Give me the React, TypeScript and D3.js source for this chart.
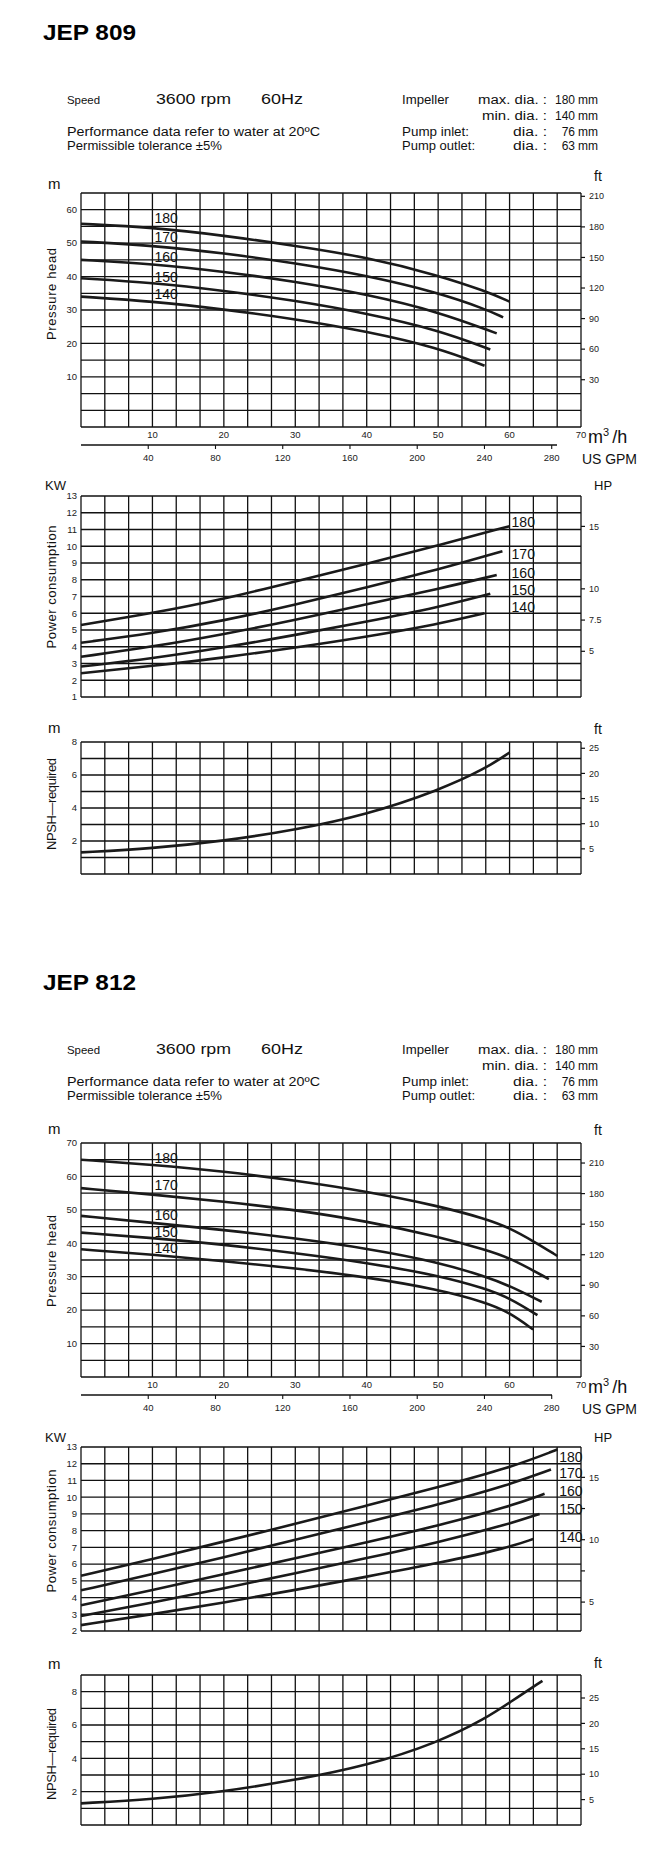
import React from 'react';
import * as d3 from 'd3';

// ---------- data ----------
const DIAMETERS = [180, 170, 160, 150, 140];
const FLOW_TICKS = [10, 20, 30, 40, 50, 60, 70];
const GPM_TICKS = [40, 80, 120, 160, 200, 240, 280];

// JEP 809 : head [m3/h, m]
const JEP809_HEAD: number[][][] = [
  [[0, 55.8], [10, 54.7], [20, 52.3], [30, 49.2], [40, 45.8], [50, 40.4], [56.7, 35.6], [60, 32.5]],
  [[0, 50.5], [10, 49.3], [20, 47], [30, 44], [40, 40.3], [50, 35.2], [56.7, 30.2], [59.1, 27.8]],
  [[0, 45], [10, 43.8], [20, 41.5], [30, 38.5], [40, 34.7], [50, 29.5], [58.2, 23]],
  [[0, 39.5], [10, 38.2], [20, 35.8], [30, 32.8], [40, 29], [50, 24], [57.3, 18.2]],
  [[0, 34], [10, 32.6], [20, 30.2], [30, 27.3], [40, 23.6], [50, 18.7], [56.5, 13.3]],
];
// JEP 809 : power [m3/h, kW]
const JEP809_POWER: number[][][] = [
  [[0, 5.3], [10, 6.0], [20, 6.85], [30, 7.9], [40, 8.95], [50, 10.05], [60, 11.2]],
  [[0, 4.24], [10, 4.8], [20, 5.56], [30, 6.5], [40, 7.55], [50, 8.6], [59, 9.7]],
  [[0, 3.4], [10, 4.0], [20, 4.75], [30, 5.6], [40, 6.55], [50, 7.45], [58.2, 8.28]],
  [[0, 2.82], [10, 3.3], [20, 3.95], [30, 4.7], [40, 5.5], [50, 6.35], [57.3, 7.16]],
  [[0, 2.42], [10, 2.85], [20, 3.35], [30, 3.95], [40, 4.6], [50, 5.35], [56.5, 6.0]],
];
// JEP 809 : NPSH [m3/h, m]
const JEP809_NPSH: number[][] = [[0, 1.31], [10, 1.55], [20, 2.0], [30, 2.67], [40, 3.6], [50, 5.05], [56.7, 6.4], [60, 7.36]];

// JEP 812 : head
const JEP812_HEAD: number[][][] = [
  [[0, 65], [10, 63.5], [20, 61.5], [30, 58.8], [40, 55.5], [50, 51.2], [56.7, 47.3], [60, 44.6], [63.3, 40.7], [66.7, 36.2]],
  [[0, 56.5], [10, 54.6], [20, 52.5], [30, 50], [40, 46.6], [50, 42], [56.7, 38], [60, 35.7], [65.5, 29.3]],
  [[0, 48.2], [10, 46.1], [20, 44], [30, 41.5], [40, 38.5], [50, 34.4], [56.7, 30], [60, 27.3], [64.5, 22.5]],
  [[0, 43.2], [10, 41.6], [20, 39.6], [30, 37.1], [40, 34.2], [50, 30.4], [56.7, 26.4], [60, 23.6], [63.9, 18.5]],
  [[0, 38.2], [10, 36.6], [20, 34.7], [30, 32.5], [40, 29.9], [50, 26.2], [56.7, 22.3], [60, 19.3], [63.3, 14.2]],
];
// JEP 812 : power
const JEP812_POWER: number[][][] = [
  [[0, 5.3], [10, 6.3], [20, 7.35], [30, 8.4], [40, 9.5], [50, 10.6], [60, 11.75], [66.7, 12.85]],
  [[0, 4.43], [10, 5.4], [20, 6.4], [30, 7.45], [40, 8.5], [50, 9.55], [60, 10.75], [65.8, 11.65]],
  [[0, 3.54], [10, 4.45], [20, 5.4], [30, 6.35], [40, 7.3], [50, 8.3], [60, 9.45], [64.9, 10.2]],
  [[0, 2.9], [10, 3.7], [20, 4.55], [30, 5.45], [40, 6.35], [50, 7.3], [60, 8.4], [64.2, 9.0]],
  [[0, 2.35], [10, 3.0], [20, 3.7], [30, 4.45], [40, 5.25], [50, 6.05], [60, 7.0], [63.3, 7.5]],
];
// JEP 812 : NPSH
const JEP812_NPSH: number[][] = [[0, 1.3], [10, 1.54], [20, 2.0], [30, 2.7], [40, 3.55], [50, 4.95], [56.7, 6.4], [60, 7.35], [64.6, 8.65]];

// curve label values (data units)
const JEP809_HEAD_LABELS = [57.5, 51.8, 45.8, 40, 34.8];
const JEP809_POWER_LABELS = [11.46, 9.56, 8.4, 7.4, 6.4];
const JEP812_HEAD_LABELS = [65.5, 57.5, 48.5, 43.3, 38.5];
const JEP812_POWER_LABELS = [12.4, 11.45, 10.4, 9.3, 7.6];

const FT_HEAD_TICKS = [30, 60, 90, 120, 150, 180, 210];
const FT_NPSH_TICKS = [5, 10, 15, 20, 25];
const HP_TICKS_809 = [5, 7.5, 10, 15];
const HP_LABELS_809 = ['5', '7.5', '10', '15'];
const HP_TICKS_812 = [5, 7.5, 10, 12.5, 15];
const HP_LABELS_812 = ['5', '', '10', '', '15'];

const FT = 0.3048;
const HP = 0.7457;

// ---------- layout ----------
const X0 = 81;
const X1 = 581;
const FONT = "'Liberation Sans', Arial, Helvetica, sans-serif";
const xScale = d3.scaleLinear().domain([0, 70]).range([X0, X1]);
const xGrid = d3.range(0, 22).map((i) => (i * 70) / 21);
const gpmScale = d3.scaleLinear().domain([0, 280]).range([X0, xScale(65.9)]);

type PanelProps = {
  top: number; bottom: number; yMin: number; yMax: number; yStep: number;
  leftTicks: number[]; rightTicks: number[]; rightLabels: string[]; rightFactor: number;
  curves: number[][][]; labels?: number[]; labelFlow?: number;
  unitL: string; unitR: string; unitLY: number; unitRY: number; unitSize: number;
  title: string; titleY: number; titleLen: number;
};

function Panel(p: PanelProps) {
  const y = d3.scaleLinear().domain([p.yMin, p.yMax]).range([p.bottom, p.top]);
  const line = d3.line<number[]>().x((d) => xScale(d[0])).y((d) => y(d[1])).curve(d3.curveBasis);
  const yGrid = d3.range(p.yMin, p.yMax + 1e-6, p.yStep);
  return (
    <g>
      {yGrid.map((v, i) => (
        <line key={'h' + i} x1={X0} x2={X1} y1={y(v)} y2={y(v)} stroke="#111" strokeWidth={1.3} />
      ))}
      {xGrid.map((v, i) => (
        <line key={'v' + i} x1={xScale(v)} x2={xScale(v)} y1={p.top} y2={p.bottom} stroke="#111" strokeWidth={1.3} />
      ))}
      {p.leftTicks.map((v) => (
        <text key={'l' + v} x={X0 - 4} y={y(v)} dy="0.35em" textAnchor="end" fontSize={9.5} fontFamily={FONT} fill="#222">{v}</text>
      ))}
      {p.rightTicks.map((v, i) => (
        <g key={'r' + i}>
          <line x1={X1} x2={X1 + 4} y1={y(v * p.rightFactor)} y2={y(v * p.rightFactor)} stroke="#111" strokeWidth={1.2} />
          {p.rightLabels[i] && (
            <text x={X1 + 8} y={y(v * p.rightFactor)} dy="0.35em" fontSize={9} fontFamily={FONT} fill="#222">{p.rightLabels[i]}</text>
          )}
        </g>
      ))}
      {p.curves.map((c, i) => (
        <path key={'c' + i} d={line(c) || ''} fill="none" stroke="#1a1a1a" strokeWidth={2.6} strokeLinecap="butt" />
      ))}
      {p.labels && p.labels.map((v, i) => (
        <text key={'t' + i} x={xScale(p.labelFlow || 0) + 2} y={y(v)} dy="0.36em" fontSize={14} fontFamily={FONT} fill="#111">{DIAMETERS[i]}</text>
      ))}
      <text x={48} y={p.unitLY} fontSize={p.unitSize} fontFamily={FONT} fill="#111">{p.unitL}</text>
      <text x={X1 + 13} y={p.unitRY} fontSize={p.unitSize - 1} fontFamily={FONT} fill="#111">{p.unitR}</text>
      <text transform={`translate(56,${p.titleY}) rotate(-90)`} textAnchor="middle" fontSize={13} fontFamily={FONT}
        fill="#111" textLength={p.titleLen} lengthAdjust="spacing">{p.title}</text>
    </g>
  );
}

function FlowAxis({ labelY, lineY, gpmY, lineEnd }: { labelY: number; lineY: number; gpmY: number; lineEnd: number }) {
  return (
    <g fontFamily={FONT} fill="#222">
      {FLOW_TICKS.map((v) => (
        <text key={v} x={xScale(v)} y={labelY} textAnchor="middle" fontSize={9.5}>{v}</text>
      ))}
      <line x1={X0} x2={lineEnd} y1={lineY} y2={lineY} stroke="#111" strokeWidth={1.3} />
      {GPM_TICKS.map((v) => (
        <g key={v}>
          <line x1={gpmScale(v)} x2={gpmScale(v)} y1={lineY} y2={lineY + 4} stroke="#111" strokeWidth={1.1} />
          <text x={gpmScale(v)} y={gpmY} textAnchor="middle" fontSize={9.5}>{v}</text>
        </g>
      ))}
      <text x={588} y={lineY - 2} fontSize={18} fill="#111">m<tspan dy={-7} fontSize={11}>3</tspan><tspan dy={7} dx={3}>/h</tspan></text>
      <text x={582} y={gpmY + 3} fontSize={14} fill="#111" textLength={55} lengthAdjust="spacing">US GPM</text>
    </g>
  );
}

function Header({ oy, name }: { oy: number; name: string }) {
  const t = (x: number, y: number, s: string, fs: number, len?: number, anchor = 'start') => (
    <text x={x} y={oy + y} fontSize={fs} fontFamily={FONT} fill="#111" textAnchor={anchor}
      {...(len ? { textLength: len, lengthAdjust: 'spacingAndGlyphs' } : {})}>{s}</text>
  );
  return (
    <g>
      <text x={43} y={oy + 40} fontSize={22} fontWeight="bold" fontFamily={FONT} fill="#000" textLength={93} lengthAdjust="spacingAndGlyphs">{name}</text>
      {t(67, 104, 'Speed', 11.5, 33)}
      {t(156, 104, '3600 rpm', 15, 75)}
      {t(261, 104, '60Hz', 15, 42)}
      {t(402, 104, 'Impeller', 12.5, 47)}
      {t(478, 104, 'max. dia. :', 12, 69)}
      {t(575, 104, '180', 12, undefined, 'end')}
      {t(578, 104, 'mm', 12)}
      {t(482, 120, 'min. dia. :', 12, 65)}
      {t(575, 120, '140', 12, undefined, 'end')}
      {t(578, 120, 'mm', 12)}
      {t(67, 136, 'Performance data refer to water at 20ºC', 12, 253)}
      {t(402, 136, 'Pump inlet:', 12, 67)}
      {t(513, 136, 'dia. :', 12, 34)}
      {t(575, 136, '76', 12, undefined, 'end')}
      {t(578, 136, 'mm', 12)}
      {t(67, 150, 'Permissible tolerance ±5%', 12, 155)}
      {t(402, 150, 'Pump outlet:', 12, 73)}
      {t(513, 150, 'dia. :', 12, 34)}
      {t(575, 150, '63', 12, undefined, 'end')}
      {t(578, 150, 'mm', 12)}
    </g>
  );
}

function UnitPair({ y, l, r }: { y: number; l: string; r: string }) {
  return (
    <g fontFamily={FONT} fill="#111" fontSize={13}>
      <text x={45} y={y}>{l}</text>
      <text x={594} y={y}>{r}</text>
    </g>
  );
}

export default function App() {
  return (
    <svg width={670} height={1850} style={{ position: 'absolute', left: 0, top: 0, background: '#fff' }}>
      <rect width={670} height={1850} fill="#fff" />
      {/* ===== JEP 809 ===== */}
      <Header oy={0} name="JEP 809" />
      <Panel top={193} bottom={427} yMin={-5} yMax={65} yStep={5}
        leftTicks={[10, 20, 30, 40, 50, 60]} rightTicks={FT_HEAD_TICKS} rightLabels={FT_HEAD_TICKS.map(String)} rightFactor={FT}
        curves={JEP809_HEAD} labels={JEP809_HEAD_LABELS} labelFlow={10}
        unitL="m" unitR="ft" unitLY={189} unitRY={181} unitSize={15}
        title="Pressure  head" titleY={294} titleLen={92} />
      <FlowAxis labelY={438} lineY={445} gpmY={461} lineEnd={557} />
      <UnitPair y={490} l="KW" r="HP" />
      <Panel top={496} bottom={697} yMin={1} yMax={13} yStep={1}
        leftTicks={d3.range(1, 14)} rightTicks={HP_TICKS_809} rightLabels={HP_LABELS_809} rightFactor={HP}
        curves={JEP809_POWER} labels={JEP809_POWER_LABELS} labelFlow={60}
        unitL="" unitR="" unitLY={0} unitRY={0} unitSize={13}
        title="Power  consumption" titleY={587} titleLen={123} />
      <Panel top={742} bottom={874} yMin={0} yMax={8} yStep={1}
        leftTicks={[2, 4, 6, 8]} rightTicks={FT_NPSH_TICKS} rightLabels={FT_NPSH_TICKS.map(String)} rightFactor={FT}
        curves={[JEP809_NPSH]}
        unitL="m" unitR="ft" unitLY={733} unitRY={734} unitSize={15}
        title="NPSH—required" titleY={804} titleLen={92} />

      {/* ===== JEP 812 ===== */}
      <Header oy={950} name="JEP 812" />
      <Panel top={1143} bottom={1377} yMin={0} yMax={70} yStep={5}
        leftTicks={[10, 20, 30, 40, 50, 60, 70]} rightTicks={FT_HEAD_TICKS} rightLabels={FT_HEAD_TICKS.map(String)} rightFactor={FT}
        curves={JEP812_HEAD} labels={JEP812_HEAD_LABELS} labelFlow={10}
        unitL="m" unitR="ft" unitLY={1134} unitRY={1135} unitSize={15}
        title="Pressure  head" titleY={1261} titleLen={92} />
      <FlowAxis labelY={1388} lineY={1395} gpmY={1411} lineEnd={552} />
      <UnitPair y={1442} l="KW" r="HP" />
      <Panel top={1447} bottom={1631} yMin={2} yMax={13} yStep={1}
        leftTicks={d3.range(2, 14)} rightTicks={HP_TICKS_812} rightLabels={HP_LABELS_812} rightFactor={HP}
        curves={JEP812_POWER} labels={JEP812_POWER_LABELS} labelFlow={66.667}
        unitL="" unitR="" unitLY={0} unitRY={0} unitSize={13}
        title="Power  consumption" titleY={1531} titleLen={123} />
      <Panel top={1675} bottom={1825} yMin={0} yMax={9} yStep={1}
        leftTicks={[2, 4, 6, 8]} rightTicks={FT_NPSH_TICKS} rightLabels={FT_NPSH_TICKS.map(String)} rightFactor={FT}
        curves={[JEP812_NPSH]}
        unitL="m" unitR="ft" unitLY={1669} unitRY={1668} unitSize={15}
        title="NPSH—required" titleY={1754} titleLen={92} />
    </svg>
  );
}
